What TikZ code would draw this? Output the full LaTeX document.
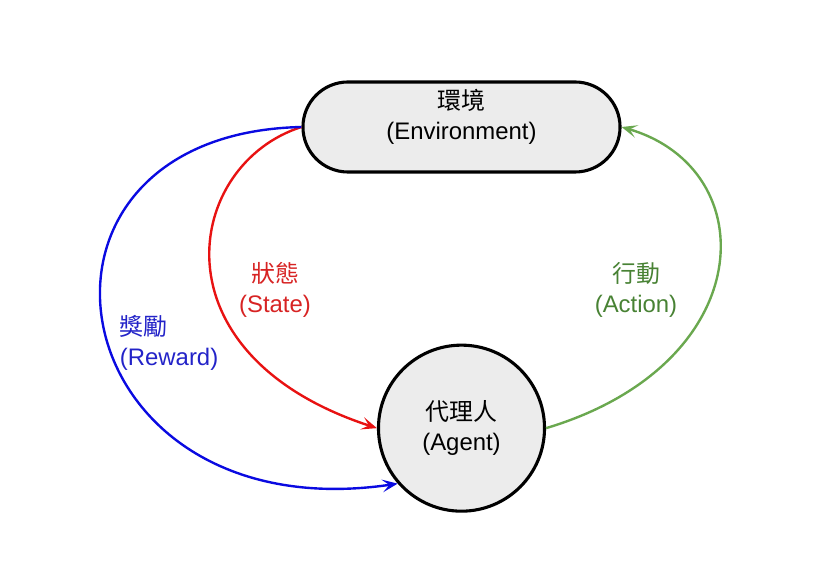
\documentclass[tikz,border=0pt]{standalone}
\usepackage{fontspec}
\setmainfont{Liberation Sans}
\newfontfamily\cjk{Noto Sans CJK TC}
\usepackage{tikz}
\usetikzlibrary{arrows.meta,positioning,shapes.geometric}
\definecolor{envfill}{RGB}{236,236,236}
\definecolor{stred}{RGB}{232,18,18}
\definecolor{rwblue}{RGB}{10,10,225}
\definecolor{acgreen}{RGB}{106,168,79}
\definecolor{stredtext}{RGB}{215,35,35}
\definecolor{rwbluetext}{RGB}{35,35,200}
\definecolor{acgreentext}{RGB}{72,130,52}

\begin{document}
\begin{tikzpicture}[x=0.025cm,y=0.025cm,>={Stealth[length=11pt,width=9pt,inset=5pt]},
  envbox/.style={rectangle,rounded corners=1.125cm,draw,line width=2.2pt,fill=envfill,align=center,
    minimum width=7.925cm,minimum height=2.25cm,text depth=18pt,font=\fontsize{17}{21}\selectfont},
  agentbox/.style={circle,draw,line width=2.2pt,fill=envfill,align=center,inner sep=0pt,
    minimum size=4.15cm,font=\fontsize{17}{21}\selectfont},
  lbl/.style={align=center,font=\fontsize{17}{21}\selectfont},
  arrow/.style={->,line width=1.7pt}]

  \useasboundingbox (0,0) rectangle (818,579);

  \node[envbox] (env) at (461.5,452) {{\cjk 環境}\\(Environment)};
  \node[agentbox,below=4.25cm of env] (agent) {{\cjk 代理人}\\(Agent)};

  \node[lbl,text=stredtext] (statelbl) at (275,289) {{\cjk 狀態}\\(State)};
  \node[lbl,align=left,anchor=west,text=rwbluetext] (rewardlbl) at (115,236) {{\cjk 獎勵}\\(Reward)};
  \node[lbl,text=acgreentext] (actionlbl) at (636,289) {{\cjk 行動}\\(Action)};

  \draw[arrow,draw=stred] (env.west) .. controls (185,415) and (150,225) .. (agent.west);
  \draw[arrow,draw=rwblue] (env.west) .. controls (-10,445) and (55,45) .. (agent.221);
  \draw[arrow,draw=acgreen] (agent.east) .. controls (760,215) and (765,410) .. (env.east);
\end{tikzpicture}
\end{document}
